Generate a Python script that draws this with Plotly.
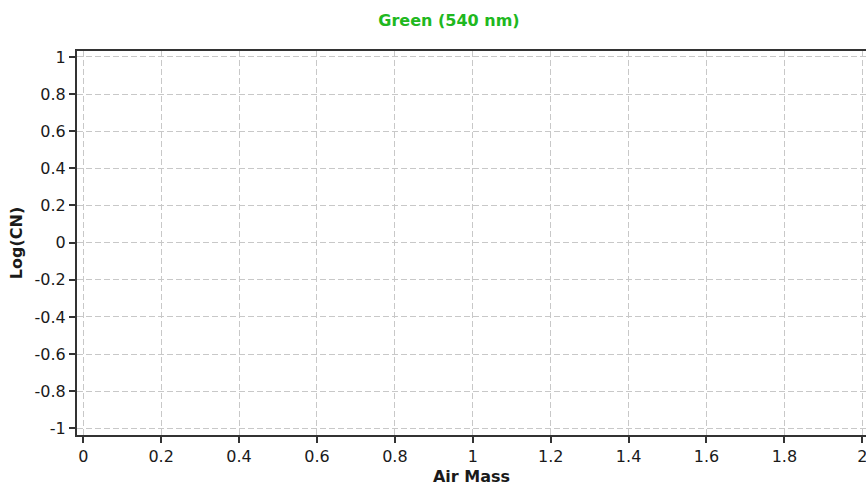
import plotly.graph_objects as go

# Data (the reference chart shows no plotted points)
air_mass = []
log_cn = []

x_tick_values = [0, 0.2, 0.4, 0.6, 0.8, 1, 1.2, 1.4, 1.6, 1.8, 2]
x_tick_labels = ["0", "0.2", "0.4", "0.6", "0.8", "1", "1.2", "1.4", "1.6", "1.8", "2"]
y_tick_values = [1, 0.8, 0.6, 0.4, 0.2, 0, -0.2, -0.4, -0.6, -0.8, -1]
y_tick_labels = ["1", "0.8", "0.6", "0.4", "0.2", "0", "-0.2", "-0.4", "-0.6", "-0.8", "-1"]

title_text = "Green (540 nm)"
x_title = "Air Mass"
y_title = "Log(CN)"

FONT = "DejaVu Sans"
TXT = "#1a1a1a"
GRID = "#c8c8c8"
AXIS = "#333333"

W, H = 866, 494

fig = go.Figure()
fig.add_trace(go.Scatter(x=air_mass, y=log_cn, mode="markers", marker=dict(color="#00b000"), showlegend=False))

fig.update_layout(
    width=W,
    height=H,
    margin=dict(l=77, r=0, t=51, b=59, pad=0),
    paper_bgcolor="white",
    plot_bgcolor="white",
    title=dict(
        text="<b>" + title_text + "</b>",
        x=449 / W,
        xref="container",
        xanchor="center",
        y=1 - 20 / H,
        yref="container",
        yanchor="middle",
        font=dict(family=FONT, size=16, color="#20b820"),
    ),
    showlegend=False,
)

fig.update_xaxes(
    range=[-0.016, 2.0095],
    tickmode="array",
    tickvals=x_tick_values,
    ticktext=x_tick_labels,
    ticklabeloverflow="allow",
    showgrid=True,
    gridcolor=GRID,
    gridwidth=1,
    griddash="6px,3px",
    zeroline=False,
    showline=True,
    linecolor=AXIS,
    linewidth=2,
    mirror=True,
    ticks="outside",
    ticklen=6,
    tickwidth=2,
    tickcolor=AXIS,
    tickfont=dict(family=FONT, size=16, color=TXT),
    title=dict(text="<b>" + x_title + "</b>", font=dict(family=FONT, size=16, color=TXT), standoff=6),
)

fig.update_yaxes(
    range=[-1.036, 1.032],
    tickmode="array",
    tickvals=y_tick_values,
    ticktext=y_tick_labels,
    showgrid=True,
    gridcolor=GRID,
    gridwidth=1,
    griddash="6px,3px",
    zeroline=False,
    showline=True,
    linecolor=AXIS,
    linewidth=2,
    ticks="outside",
    ticklen=6,
    tickwidth=2,
    tickcolor=AXIS,
    tickfont=dict(family=FONT, size=16, color=TXT),
    title=dict(text="<b>" + y_title + "</b>", font=dict(family=FONT, size=16, color=TXT), standoff=8),
)

fig.write_html(
    "out.html",
    config={"displayModeBar": False},
    post_script="document.body.style.margin='0';document.body.style.overflow='hidden';",
)
